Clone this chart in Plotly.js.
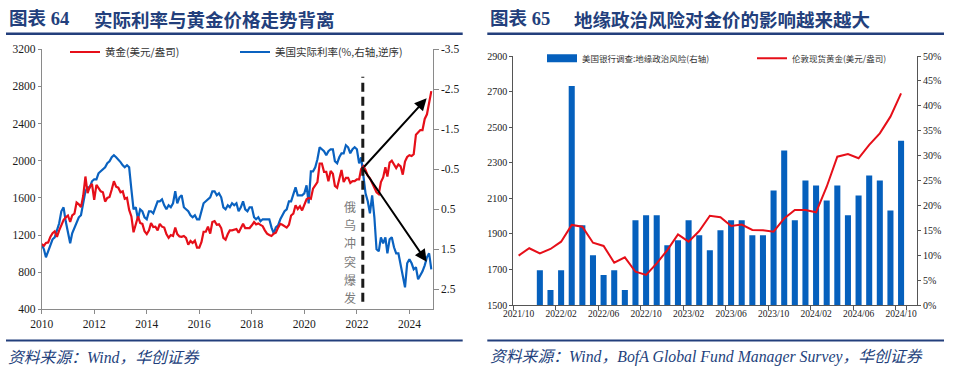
<!DOCTYPE html>
<html><head><meta charset="utf-8">
<script src="https://cdn.plot.ly/plotly-3.0.1.min.js"></script>
<style>html,body{margin:0;padding:0;background:#fff;}#chart{width:960px;height:384px;}</style>
</head><body><div id="chart"></div>
<script>
// ---------- Chart 64: gold vs US real rate (monthly readings, 2010-01 .. 2024-11) ----------
const goldStartYear = 2010;
const goldPrice = [
1100,1085,1115,1120,1180,1220,1240,1180,1250,1310,1360,1390,
1410,1340,1410,1430,1550,1530,1500,1620,1830,1650,1720,1750,
1580,1740,1700,1670,1660,1560,1600,1610,1690,1780,1720,1710,
1660,1670,1590,1600,1470,1400,1230,1310,1400,1330,1320,1240,
1210,1250,1330,1285,1290,1250,1320,1290,1280,1210,1170,1200,
1190,1280,1210,1185,1180,1190,1170,1095,1135,1115,1140,1065,
1065,1125,1235,1235,1290,1215,1340,1350,1310,1315,1275,1170,
1150,1210,1250,1250,1255,1265,1225,1270,1320,1275,1275,1275,
1305,1340,1315,1325,1310,1295,1250,1215,1200,1190,1215,1225,
1280,1320,1310,1295,1280,1310,1410,1430,1520,1480,1510,1465,
1520,1585,1600,1590,1700,1730,1770,1970,1970,1880,1880,1780,
1890,1860,1730,1710,1790,1900,1770,1815,1815,1760,1780,1780,
1800,1800,1910,1940,1900,1840,1810,1760,1720,1660,1640,1770,
1820,1930,1830,1980,2000,1960,1920,1960,1940,1850,1990,2040,
2060,2050,2070,2280,2300,2330,2330,2450,2500,2640,2750];
const realRate = [
1.38,1.50,1.70,1.55,1.40,1.25,1.20,1.05,0.85,0.55,0.45,0.80,
1.05,1.35,1.10,0.95,0.85,0.70,0.65,0.30,0.05,-0.05,-0.05,-0.20,
-0.25,-0.25,-0.40,-0.45,-0.50,-0.55,-0.65,-0.70,-0.80,-0.85,-0.80,-0.75,
-0.68,-0.60,-0.55,-0.60,-0.55,0.00,0.50,0.45,0.75,0.50,0.55,0.70,
0.75,0.55,0.55,0.60,0.45,0.30,0.30,0.25,0.40,0.50,0.40,0.45,
0.35,0.05,0.35,0.20,0.15,0.45,0.50,0.55,0.65,0.70,0.65,0.75,
0.75,0.55,0.35,0.30,0.25,0.20,0.05,0.05,0.15,0.10,0.20,0.45,
0.50,0.40,0.45,0.35,0.40,0.35,0.55,0.45,0.30,0.50,0.55,0.45,
0.45,0.70,0.75,0.70,0.80,0.75,0.75,0.75,0.75,0.95,1.10,0.95,
0.90,0.75,0.65,0.55,0.50,0.30,0.30,0.15,-0.05,0.15,0.15,0.15,
0.10,-0.10,0.35,-0.45,-0.45,-0.55,-0.75,-1.05,-1.00,-0.95,-0.85,-0.95,
-1.00,-1.00,-0.70,-0.65,-0.80,-0.90,-0.90,-1.10,-1.05,-0.90,-1.00,-1.05,
-1.00,-0.65,-0.80,-0.40,0.10,0.30,0.60,0.15,0.70,1.50,1.55,1.20,
1.35,1.20,1.60,1.25,1.20,1.45,1.60,1.60,1.90,2.20,2.45,1.85,
1.75,1.85,2.00,1.95,2.25,2.15,2.05,1.90,1.70,1.60,2.00];
const yearTickVals = ['2010-01-01','2012-01-01','2014-01-01','2016-01-01','2018-01-01','2020-01-01','2022-01-01','2024-01-01'];
const yearTickText = ['2010','2012','2014','2016','2018','2020','2022','2024'];
const goldTicks = [400,800,1200,1600,2000,2400,2800,3200];
const rateTicks = [-3.5,-2.5,-1.5,-0.5,0.5,1.5,2.5];
const rateTickText = ['-3.5','-2.5','-1.5','-0.5','0.5','1.5','2.5'];
const goldName = '黄金(美元/盎司)';
const rateName = '美国实际利率(%,右轴,逆序)';
const eventText = '俄乌冲突爆发';

// ---------- Chart 65: geopolitical risk (BofA FMS) vs London spot gold, 2021/10 .. 2024/10 ----------
const londonGold = [1778,1819,1790,1815,1856,1950,1940,1850,1832,1738,1768,1687,1669,1734,1809,1897,1856,1916,2002,1993,1944,1952,1922,1920,1912,1987,2034,2034,2021,2165,2334,2349,2325,2400,2465,2559,2690];
const geoRiskPct = [null,null,7,3,7,44,16,10,6,7,3,17,18,18,12,13,17,14,11,15,17,17,14,14,23,31,17,25,24,21,24,18,22,26,25,19,33];
const fmsTickLabels = ['2021/10','2022/02','2022/06','2022/10','2023/02','2023/06','2023/10','2024/02','2024/06','2024/10'];
const priceTicks = [1500,1700,1900,2100,2300,2500,2700,2900];
const pctTicks = [0,5,10,15,20,25,30,35,40,45,50];
const pctTickText = ['0%','5%','10%','15%','20%','25%','30%','35%','40%','45%','50%'];
const barName = '美国银行调查:地缘政治风险(右轴)';
const londonName = '伦敦现货黄金(美元/盎司)';

// month positions
const dates = goldPrice.map((_, i) => (goldStartYear + Math.floor(i/12)) + '-' + String(i%12+1).padStart(2,'0') + '-01');
const fmsMonths = [];
for (let i = 0; i < 38; i++) { const t = 2021*12 + 9 + i; fmsMonths.push(Math.floor(t/12) + '/' + String(t%12+1).padStart(2,'0')); }
const fmsX = fmsMonths.slice(0, londonGold.length);

const px = v => v/960, py = v => 1 - v/384;
const NAVY = '#233f7c', RED = '#e60f19', BLUE = '#0a62c0', BAR = '#0560bd';
const SERIF = 'Liberation Serif, Noto Sans CJK SC';
const CJK = 'Noto Sans CJK SC';

const traces = [
 {x: dates, y: realRate, type:'scatter', mode:'lines', xaxis:'x', yaxis:'y', name: rateName, legend:'legend2',
  line:{color:BLUE, width:2.2}},
 {x: dates, y: goldPrice, type:'scatter', mode:'lines', xaxis:'x', yaxis:'y2', name: goldName, legend:'legend',
  line:{color:RED, width:2.2}},
 {x: fmsX, y: geoRiskPct, type:'bar', xaxis:'x2', yaxis:'y3', name: barName, showlegend:false, marker:{color:BAR}},
 {x: [null], y: [null], type:'scatter', mode:'lines', xaxis:'x2', yaxis:'y3', name: barName, legend:'legend3',
  line:{color:BAR, width:8}},
 {x: fmsX, y: londonGold, type:'scatter', mode:'lines', xaxis:'x2', yaxis:'y4', name: londonName, legend:'legend4',
  line:{color:RED, width:2}}
];

const ax1 = {showline:true, linecolor:'#8a8a8a', linewidth:1, ticks:'outside', tickcolor:'#8a8a8a', showgrid:false, zeroline:false,
  tickfont:{family:SERIF, size:11.5, color:'#1a1a1a'}};
const ax2 = {showline:true, linecolor:'#555', linewidth:1, ticks:'outside', tickcolor:'#555', showgrid:false, zeroline:false,
  tickfont:{family:SERIF, size:10, color:'#1a1a1a'}};

const legendBase = (x, y, size) => ({x:px(x), y:py(y), xanchor:'left', yanchor:'middle', bgcolor:'rgba(0,0,0,0)', borderwidth:0,
  font:{family:CJK, size:size, color:'#333'}});

const annotations = [
 {xref:'paper', yref:'paper', x:px(7), y:py(18.5), xanchor:'left', yanchor:'middle', showarrow:false, text:'图表 64',
  font:{family:SERIF, size:18.5, weight:'bold', color:NAVY}},
 {xref:'paper', yref:'paper', x:px(92), y:py(18.5), xanchor:'left', yanchor:'middle', showarrow:false, text:'实际利率与黄金价格走势背离',
  font:{family:CJK, size:18.5, weight:'bold', color:NAVY}},
 {xref:'paper', yref:'paper', x:px(488), y:py(18.5), xanchor:'left', yanchor:'middle', showarrow:false, text:'图表 65',
  font:{family:SERIF, size:18.5, weight:'bold', color:NAVY}},
 {xref:'paper', yref:'paper', x:px(572), y:py(18.5), xanchor:'left', yanchor:'middle', showarrow:false, text:'地缘政治风险对金价的影响越来越大',
  font:{family:CJK, size:18.5, weight:'bold', color:NAVY}},
 {xref:'paper', yref:'paper', x:px(6), y:py(357), xanchor:'left', yanchor:'middle', showarrow:false, text:'资料来源：Wind，华创证券',
  font:{family:SERIF, size:15.8, style:'italic', color:NAVY}},
 {xref:'paper', yref:'paper', x:px(488), y:py(357), xanchor:'left', yanchor:'middle', showarrow:false, text:'资料来源：Wind，BofA Global Fund Manager Survey，华创证券',
  font:{family:SERIF, size:15.8, style:'italic', color:NAVY}},
 {xref:'x', yref:'y2', x:'2024-08-28', y:2672, axref:'x', ayref:'y2', ax:'2022-03-24', ay:1919, text:'', showarrow:true,
  arrowhead:2, arrowsize:1.2, arrowwidth:2, arrowcolor:'#000'},
 {xref:'x', yref:'y2', x:'2024-08-28', y:913, axref:'x', ayref:'y2', ax:'2022-03-24', ay:1919, text:'', showarrow:true,
  arrowhead:2, arrowsize:1.2, arrowwidth:2, arrowcolor:'#000'}
];
// vertical event label, one character per line
Array.from(eventText).forEach((ch, i) => annotations.push({xref:'paper', yref:'paper', x:px(350), y:py(206.5 + 18.2*i),
  xanchor:'center', yanchor:'middle', showarrow:false, borderpad:0, text:ch, font:{family:CJK, size:12, color:'#7a7a7a'}}));

const shapes = [
 {type:'line', xref:'paper', yref:'paper', x0:px(6), x1:px(462.7), y0:py(33.8), y1:py(33.8), line:{color:NAVY, width:2.5}},
 {type:'line', xref:'paper', yref:'paper', x0:px(487.3), x1:px(944), y0:py(33.8), y1:py(33.8), line:{color:NAVY, width:2.5}},
 {type:'line', xref:'paper', yref:'paper', x0:px(6), x1:px(462.7), y0:py(340.5), y1:py(340.5), line:{color:NAVY, width:2}},
 {type:'line', xref:'paper', yref:'paper', x0:px(487.3), x1:px(944), y0:py(340.5), y1:py(340.5), line:{color:NAVY, width:2}},
 {type:'line', xref:'x', yref:'paper', x0:'2022-03-24', x1:'2022-03-24', y0:py(301.7), y1:py(76.7), line:{color:'#1a1a1a', width:3, dash:'9px,5px'}}
];

const layout = {
 width:960, height:384, margin:{l:0, r:0, t:0, b:0}, paper_bgcolor:'#fff', plot_bgcolor:'rgba(0,0,0,0)',
 showlegend:true, bargap:0.43,
 xaxis: Object.assign({}, ax1, {domain:[px(41.7), px(432.7)], anchor:'y', type:'date', range:['2010-01-01','2024-11-20'],
   tickmode:'array', tickvals:yearTickVals, ticktext:yearTickText, ticklen:4}),
 yaxis: Object.assign({}, ax1, {domain:[py(309.3), py(49.3)], anchor:'x', side:'right', range:[3.0,-3.5],
   tickmode:'array', tickvals:rateTicks, ticktext:rateTickText, ticklen:5}),
 yaxis2: Object.assign({}, ax1, {overlaying:'y', anchor:'x', side:'left', range:[400,3200],
   tickmode:'array', tickvals:goldTicks, ticklen:3}),
 xaxis2: Object.assign({}, ax2, {domain:[px(513.3), px(917)], anchor:'y3', type:'category', categoryorder:'array', categoryarray:fmsMonths,
   range:[-0.5,37.5], tickmode:'array', tickvals:fmsTickLabels, ticktext:fmsTickLabels, tickson:'boundaries', ticklen:4,
   tickangle:0, tickfont:{family:SERIF, size:9.5, color:'#1a1a1a'}}),
 yaxis3: Object.assign({}, ax2, {domain:[py(305), py(56)], anchor:'x2', side:'right', range:[0,50],
   tickmode:'array', tickvals:pctTicks, ticktext:pctTickText, ticklen:3}),
 yaxis4: Object.assign({}, ax2, {overlaying:'y3', anchor:'x2', side:'left', range:[1500,2900],
   tickmode:'array', tickvals:priceTicks, ticklen:3}),
 legend: legendBase(65, 52, 10.5),
 legend2: legendBase(235, 52, 10.5),
 legend3: legendBase(542, 58.3, 8.5),
 legend4: legendBase(752, 58.3, 8.5),
 annotations: annotations,
 shapes: shapes
};

Plotly.newPlot('chart', traces, layout, {displayModeBar:false, staticPlot:true});
</script>
</body></html>
